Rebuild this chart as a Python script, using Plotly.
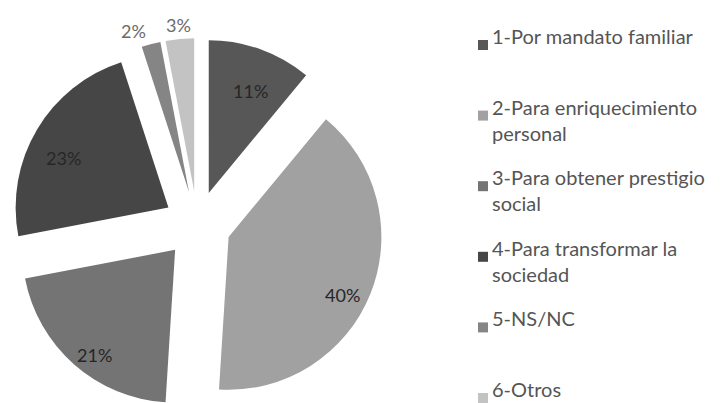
import math
import plotly.graph_objects as go

labels = ["1-Por mandato familiar", "2-Para enriquecimiento<br>personal",
          "3-Para obtener prestigio<br>social", "4-Para transformar la<br>sociedad",
          "5-NS/NC", "6-Otros"]
values = [11, 40, 21, 23, 2, 3]
colors = ["#575757", "#a1a1a1", "#747474", "#464646", "#858585", "#c3c3c3"]
outside_idx = [4, 5]  # thin slices whose labels sit above the pie

W, H = 723, 403
PULL = 0.22
DOM_X = [0.0041, 0.5197]
DOM_Y = [0.0, 0.925]
FONT = "Lato, Open Sans, sans-serif"

fig = go.Figure(go.Pie(
    labels=[l.replace("<br>", " ") for l in labels],
    values=values,
    sort=False,
    direction="clockwise",
    rotation=0,
    pull=[PULL] * len(values),
    marker=dict(colors=colors, line=dict(width=0)),
    textinfo="none",
    domain=dict(x=DOM_X, y=DOM_Y),
    hoverinfo="label+percent",
    showlegend=False,
))

# percentage labels, placed from the pie geometry
total = sum(values)
box_w = W * (DOM_X[1] - DOM_X[0])
box_h = H * (DOM_Y[1] - DOM_Y[0])
r_px = min(box_w, box_h) / 2 / (1 + PULL)
cx = (DOM_X[0] + DOM_X[1]) / 2
cy = (DOM_Y[0] + DOM_Y[1]) / 2
cum = 0
annotations = []
for i, v in enumerate(values):
    mid = (cum + v / 2) / total * 2 * math.pi
    cum += v
    pct = f"{round(100 * v / total)}%"
    if i in outside_idx:
        dist = r_px * (1 + PULL) + 14
        annotations.append(dict(
            x=cx + dist * math.sin(mid) / W,
            y=cy + dist * math.cos(mid) / H,
            xref="paper", yref="paper", text=pct, showarrow=False,
            xanchor="right" if math.sin(mid) < -0.2 else "center",
            yanchor="middle",
            font=dict(family=FONT, size=18, color="#6b6b6b"),
        ))
    else:
        dist = r_px * PULL + 0.8 * r_px
        annotations.append(dict(
            x=cx + dist * math.sin(mid) / W,
            y=cy + dist * math.cos(mid) / H,
            xref="paper", yref="paper", text=pct, showarrow=False,
            xanchor="center", yanchor="top",
            font=dict(family=FONT, size=18, color="#262626"),
        ))

# legend: colour square + text for each category
legend_x_sq = 470 / W
legend_x_txt = 482 / W
leg_top = 37
leg_step = 70.6
shapes = []
for i, (lab, col) in enumerate(zip(labels, colors)):
    yc = leg_top + i * leg_step
    shapes.append(dict(
        type="rect", xref="paper", yref="paper",
        x0=legend_x_sq, x1=legend_x_sq + 10 / W,
        y0=1 - (yc + 5) / H, y1=1 - (yc - 5) / H,
        fillcolor=col, line=dict(width=0),
    ))
    annotations.append(dict(
        x=legend_x_txt, y=1 - (yc - 23) / H,
        xref="paper", yref="paper",
        text=lab, showarrow=False, align="left",
        xanchor="left", yanchor="top",
        font=dict(family=FONT, size=20, color="#555555"),
    ))

fig.update_layout(
    width=W, height=H,
    margin=dict(l=0, r=0, t=0, b=0),
    paper_bgcolor="white",
    plot_bgcolor="white",
    showlegend=False,
    annotations=annotations,
    shapes=shapes,
)

fig.write_html("out.html")
